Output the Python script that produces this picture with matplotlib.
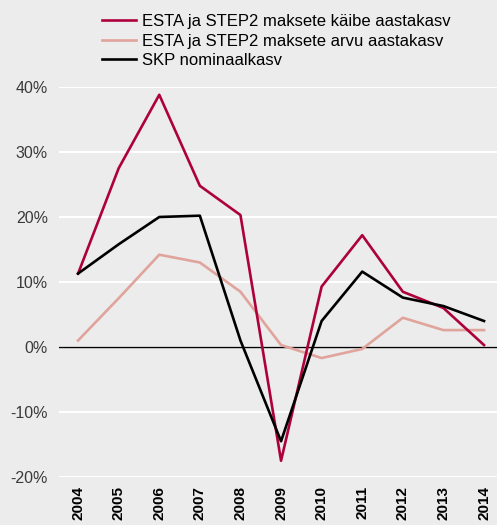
import matplotlib.pyplot as plt

years = ['2004', '2005', '2006', '2007', '2008', '2009', '2010', '2011', '2012', '2013', '2014']
kaive = [11.3, 27.5, 38.8, 24.8, 20.3, -17.5, 9.3, 17.2, 8.5, 6.0, 0.3]
arvu = [1.0, 7.5, 14.2, 13.0, 8.5, 0.3, -1.7, -0.3, 4.5, 2.6, 2.6]
skp = [11.3, 15.8, 20.0, 20.2, 1.0, -14.5, 4.0, 11.6, 7.6, 6.3, 4.0]
yticks = [-20, -10, 0, 10, 20, 30, 40]

bg = '#ebeceb'
plt.rcParams['font.family'] = ['Liberation Sans', 'DejaVu Sans']

fig = plt.figure(figsize=(4.97, 5.25), dpi=100, facecolor=bg)
ax = fig.add_axes([59 / 497, 1 - 477 / 525, 1 - 59 / 497, (477 - 87) / 525])
ax.set_facecolor(bg)

x = range(len(years))
ax.plot(x, kaive, color='#ad003c', lw=1.9, label='ESTA ja STEP2 maksete käibe aastakasv', zorder=4)
ax.plot(x, arvu, color='#e0a49c', lw=1.9, label='ESTA ja STEP2 maksete arvu aastakasv', zorder=3)
ax.plot(x, skp, color='black', lw=1.9, label='SKP nominaalkasv', zorder=5)

ax.axhline(0, color='black', lw=1.0, zorder=2)
ax.set_yticks(yticks)
ax.set_yticklabels([f'{v}%' for v in yticks], fontsize=11.5, color='#3a3a3a')
ax.set_ylim(-20, 40)
ax.set_xlim(-0.47, 10.32)
ax.set_xticks(list(x))
ax.set_xticklabels(years, rotation=90, fontsize=11, fontweight='bold', color='black')
ax.grid(axis='y', color='white', lw=1.5, zorder=0)
ax.tick_params(axis='y', length=0, pad=8)
ax.tick_params(axis='x', length=0, pad=6.5)
for s in ax.spines.values():
    s.set_visible(False)

fig.legend(loc='upper left', bbox_to_anchor=(102 / 497, 1 - 14 / 525), frameon=False,
           fontsize=12, handlelength=2.05, labelspacing=0.28, handletextpad=0.35,
           borderaxespad=0, borderpad=0)

fig.savefig('out.png', dpi=100, facecolor=bg)
